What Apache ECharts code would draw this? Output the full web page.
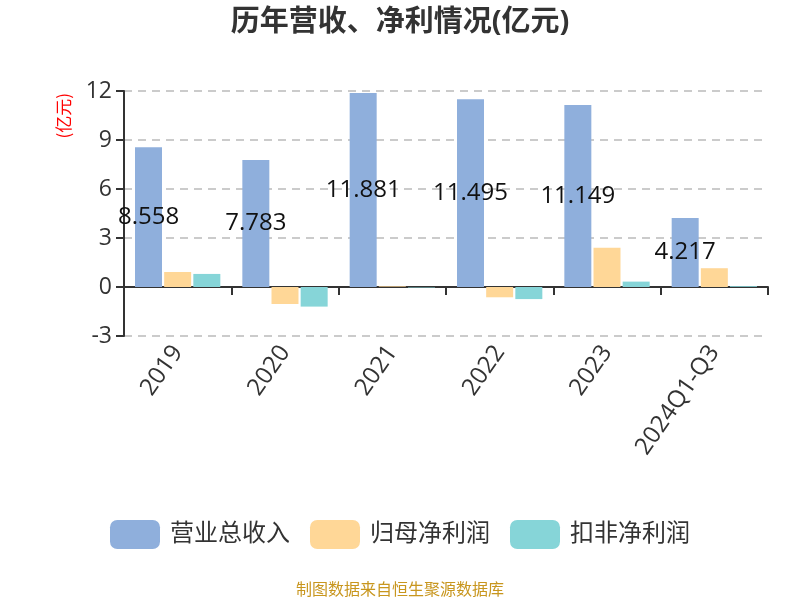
<!DOCTYPE html>
<html><head><meta charset="utf-8">
<script src="https://cdn.jsdelivr.net/npm/echarts@6/dist/echarts.min.js"></script>
<style>html,body{margin:0;padding:0;background:#fff}#c{width:800px;height:600px}</style>
</head><body><div id="c"></div>
<script>
var categories = ['2019','2020','2021','2022','2023','2024Q1-Q3'];
var revenue = [8.558, 7.783, 11.881, 11.495, 11.149, 4.217];
var netProfit = [0.92, -1.04, 0.04, -0.63, 2.40, 1.15];
var deductedProfit = [0.80, -1.20, -0.03, -0.74, 0.33, 0.05];
var seriesNames = ['营业总收入','归母净利润','扣非净利润'];
var yTicks = {min:-3, max:12, interval:3};

var chart = echarts.init(document.getElementById('c'));
var font = '"Open Sans","Noto Sans CJK SC",sans-serif';
chart.setOption({
  animation:false,
  textStyle:{fontFamily:font},
  title:{text:'历年营收、净利情况(亿元)', left:'center', top:3,
    textStyle:{fontSize:29, fontWeight:'bold', color:'#333', fontFamily:font}},
  color:['#8FAFDC','#FFD797','#86D5D8'],
  legend:{bottom:46, left:'center', itemWidth:50, itemHeight:29, itemGap:20,
    textStyle:{fontSize:24, color:'#333', fontFamily:font, padding:[0,0,0,5]}, data:seriesNames},
  grid:{left:124, right:32, top:91, bottom:264},
  xAxis:{type:'category', data:categories,
    axisLine:{onZero:true, lineStyle:{color:'#333', width:2}},
    axisTick:{show:true, length:8, lineStyle:{width:2}},
    axisLabel:{rotate:55, fontSize:24, color:'#333', margin:12, interval:0}},
  yAxis:{type:'value', min:yTicks.min, max:yTicks.max, interval:yTicks.interval,
    axisLine:{show:true, lineStyle:{color:'#333', width:2}},
    axisTick:{show:true, length:8, lineStyle:{width:2}},
    axisLabel:{fontSize:23, color:'#333', margin:12},
    splitLine:{lineStyle:{type:[8,6], color:'#bbb', width:1.5}}},
  graphic:[
    {type:'text', left:55, top:93, rotation:Math.PI/2,
      style:{text:'(亿元)', fill:'#ff0000', fontSize:17, fontFamily:'"Noto Sans CJK SC",sans-serif'}},
    {type:'text', left:'center', bottom:3,
      style:{text:'制图数据来自恒生聚源数据库', fill:'#C8961E', fontSize:16, fontFamily:'"Noto Sans CJK SC",sans-serif'}}
  ],
  series:[
    {name:seriesNames[0], type:'bar', data:revenue, barWidth:27, barGap:'8%',
      label:{show:true, position:'inside', color:'#111', fontSize:24, fontFamily:font,
        formatter:function(p){return p.value.toFixed(3);}}},
    {name:seriesNames[1], type:'bar', data:netProfit, barWidth:27},
    {name:seriesNames[2], type:'bar', data:deductedProfit, barWidth:27}
  ]
});
</script></body></html>
